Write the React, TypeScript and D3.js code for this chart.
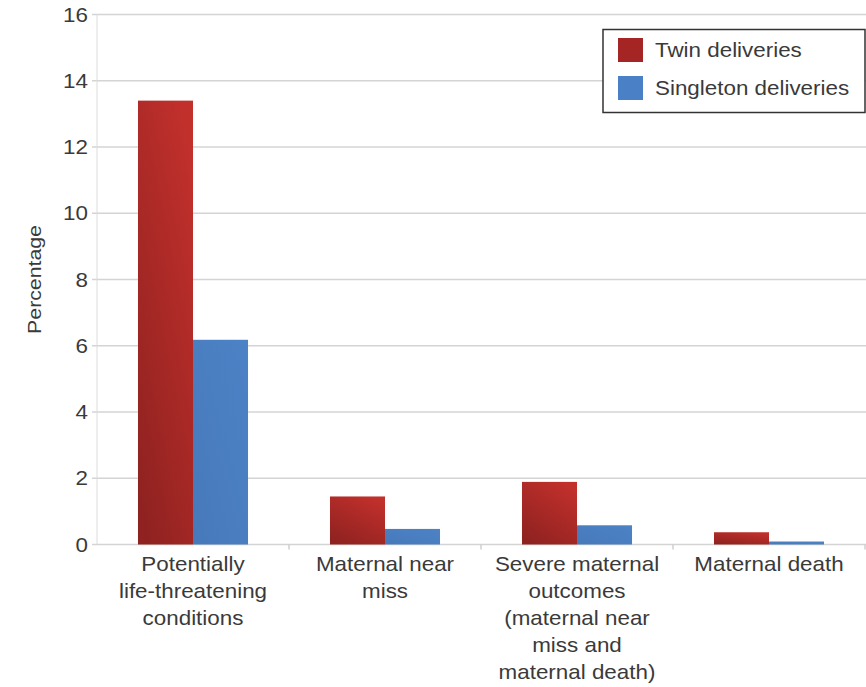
import React from "react";
import * as d3 from "d3";

const categories = [
  ["Potentially", "life-threatening", "conditions"],
  ["Maternal near", "miss"],
  ["Severe maternal", "outcomes", "(maternal near", "miss and", "maternal death)"],
  ["Maternal death"],
];
const categoryKeys = ["plc", "mnm", "smo", "md"];
const seriesNames = ["Twin deliveries", "Singleton deliveries"];
const twinValues = [13.4, 1.45, 1.89, 0.37];
const singletonValues = [6.18, 0.47, 0.58, 0.09];
const yTicks = [0, 2, 4, 6, 8, 10, 12, 14, 16];

const W = 866;
const H = 687;
const left = 97;
const right = 865;
const top = 14.5;
const bottom = 544.5;
const FONT = "'Liberation Sans', Arial, Helvetica, sans-serif";
const SX = 1.12;
const TXT = "#3a3a3a";

export default function App() {
  const y = d3.scaleLinear().domain([0, 16]).range([bottom, top]);
  const x0 = d3.scaleBand<string>().domain(categoryKeys).range([left, right]).padding(0);
  const x1 = d3
    .scaleBand<string>()
    .domain(seriesNames)
    .range([0, x0.bandwidth()])
    .paddingInner(0)
    .paddingOuter(0.745);
  const values = [twinValues, singletonValues];
  const fills = ["url(#redGrad)", "url(#blueGrad)"];

  const txt = (x: number, yy: number, s: string, anchor: string, key?: any) => (
    <text
      key={key}
      transform={`translate(${x},${yy}) scale(${SX},1)`}
      textAnchor={anchor}
      fontFamily={FONT}
      fontSize={20}
      fill={TXT}
    >
      {s}
    </text>
  );

  return (
    <svg
      width={W}
      height={H}
      style={{ position: "absolute", left: 0, top: 0, background: "#fff" }}
    >
      <defs>
        <linearGradient id="redGrad" x1="0.2" y1="1" x2="0.8" y2="0">
          <stop offset="0" stopColor="#8f2220" />
          <stop offset="1" stopColor="#c2302c" />
        </linearGradient>
        <linearGradient id="blueGrad" x1="0" y1="1" x2="1" y2="0">
          <stop offset="0" stopColor="#4779ba" />
          <stop offset="1" stopColor="#4c83c6" />
        </linearGradient>
      </defs>
      <rect x={0} y={0} width={W} height={H} fill="#fff" />
      {yTicks.map((t) => (
        <line
          key={"g" + t}
          x1={left - 5}
          x2={W}
          y1={y(t)}
          y2={y(t)}
          stroke="#d4d4d4"
          strokeWidth={1.5}
        />
      ))}
      <line x1={left} x2={left} y1={top} y2={bottom} stroke="#dcdcdc" strokeWidth={1} />
      {categoryKeys.map((k) => (
        <line
          key={"xt" + k}
          x1={(x0(k) as number) + x0.bandwidth()}
          x2={(x0(k) as number) + x0.bandwidth()}
          y1={bottom}
          y2={bottom + 5}
          stroke="#cfcfcf"
          strokeWidth={1.5}
        />
      ))}
      {yTicks.map((t) => txt(88, y(t) + 7, String(t), "end", "yl" + t))}
      <text
        transform={`translate(41,${(top + bottom) / 2}) rotate(-90) scale(${SX},1)`}
        textAnchor="middle"
        fontFamily={FONT}
        fontSize={19}
        fill={TXT}
      >
        Percentage
      </text>
      {categoryKeys.map((k, i) =>
        seriesNames.map((s, j) => {
          const v = values[j][i];
          return (
            <rect
              key={k + s}
              x={(x0(k) as number) + (x1(s) as number)}
              y={y(v)}
              width={x1.bandwidth()}
              height={bottom - y(v)}
              fill={fills[j]}
            />
          );
        })
      )}
      {categoryKeys.map((k, i) =>
        categories[i].map((line, li) =>
          txt((x0(k) as number) + x0.bandwidth() / 2, 571 + li * 27, line, "middle", k + li)
        )
      )}
      <rect x={603} y={29.5} width={262} height={83} fill="#fff" stroke="#333" strokeWidth={1.5} />
      <rect x={618} y={38} width={25} height={24} fill="#a52525" />
      <rect x={618} y={76} width={25} height={24} fill="#4a80c6" />
      {txt(655, 57, seriesNames[0], "start", "lg0")}
      {txt(655, 95, seriesNames[1], "start", "lg1")}
    </svg>
  );
}
